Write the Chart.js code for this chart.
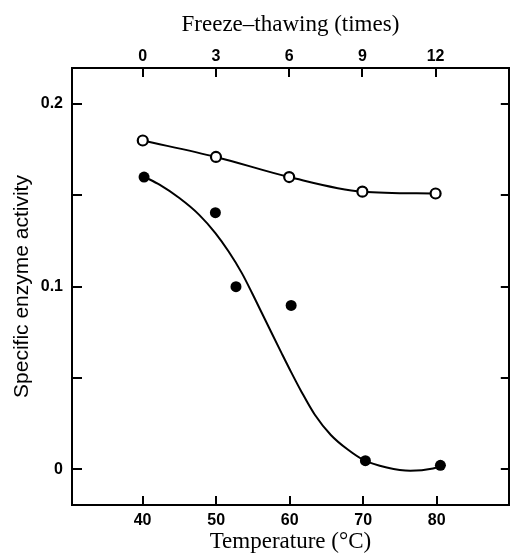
<!DOCTYPE html>
<html>
<head>
<meta charset="utf-8">
<script src="https://cdn.jsdelivr.net/npm/chart.js@4.4.1/dist/chart.umd.min.js"></script>
<style>
  body { margin: 0; background: #fff; }
  canvas { display: block; }
</style>
</head>
<body>
<canvas id="chart" width="516" height="553"></canvas>
<script>
// temperature treatment (filled circles)
const tempValues = [40.2, 49.9, 52.7, 60.2, 70.3, 80.5];
const tempActivity = [0.160, 0.1405, 0.100, 0.0897, 0.0047, 0.0022];

// fitted curve through the temperature data
const curveTemp = [40.3, 42.3, 45.0, 47.7, 49.9, 51.7, 53.5, 54.9, 56.2, 57.5, 58.9, 60.2, 61.6, 63.4, 65.6, 67.9, 70.1, 73.2, 76.4, 79.5, 80.4];
const curveActivity = [0.160, 0.1558, 0.1485, 0.1393, 0.1293, 0.1192, 0.1074, 0.0964, 0.0857, 0.0750, 0.0636, 0.0532, 0.0425, 0.0300, 0.0188, 0.0108, 0.0050, 0.0010, -0.0008, 0.0004, 0.0015];

// freeze-thawing (open circles)
const freezeTimes = [0, 3, 6, 9, 12];
const freezeActivity = [0.180, 0.171, 0.160, 0.152, 0.151];

const tempTicks = [40, 50, 60, 70, 80];
const freezeTicks = [0, 3, 6, 9, 12];
const yTicks = [0, 0.05, 0.1, 0.15, 0.2];
const yTickLabels = ['0', '', '0.1', '', '0.2'];

const tickFont = { family: 'Liberation Sans', size: 16, weight: 'bold' };
const serifTitle = { family: 'Liberation Serif', size: 23, lineHeight: 1 };

function toPoints(xs, ys) {
    return xs.map((x, i) => ({ x: x, y: ys[i] }));
}

// ticks on the frame point inwards, so they are drawn here
const innerTicks = {
    id: 'innerTicks',
    afterDraw(chart) {
        const { ctx, chartArea: a, scales } = chart;
        ctx.save();
        ctx.strokeStyle = '#000';
        ctx.lineWidth = 2;
        ctx.beginPath();
        tempTicks.forEach(v => {
            const px = Math.round(scales.x.getPixelForValue(v));
            ctx.moveTo(px, a.bottom);
            ctx.lineTo(px, a.bottom - 9);
        });
        freezeTicks.forEach(v => {
            const px = Math.round(scales.x2.getPixelForValue(v));
            ctx.moveTo(px, a.top);
            ctx.lineTo(px, a.top + 9);
        });
        yTicks.forEach(v => {
            const py = Math.round(scales.y.getPixelForValue(v));
            ctx.moveTo(a.left, py);
            ctx.lineTo(a.left + 10, py);
            ctx.moveTo(a.right, py);
            ctx.lineTo(a.right - 8, py);
        });
        ctx.stroke();
        ctx.restore();
    }
};

const frame = { display: true, color: '#000', width: 2 };
const noGrid = { display: true, drawOnChartArea: false, drawTicks: false };

new Chart(document.getElementById('chart').getContext('2d'), {
    type: 'scatter',
    data: {
        datasets: [
            {
                label: 'Freeze-thawing',
                data: toPoints(freezeTimes, freezeActivity),
                xAxisID: 'x2',
                yAxisID: 'y',
                showLine: true,
                cubicInterpolationMode: 'monotone',
                borderColor: '#000',
                borderWidth: 2,
                pointRadius: 5,
                pointBorderWidth: 2.2,
                pointBackgroundColor: '#fff',
                pointBorderColor: '#000'
            },
            {
                label: 'Temperature fit',
                data: toPoints(curveTemp, curveActivity),
                xAxisID: 'x',
                yAxisID: 'y',
                showLine: true,
                cubicInterpolationMode: 'monotone',
                borderColor: '#000',
                borderWidth: 2,
                pointRadius: 0
            },
            {
                label: 'Temperature',
                data: toPoints(tempValues, tempActivity),
                xAxisID: 'x',
                yAxisID: 'y',
                showLine: false,
                pointRadius: 5.5,
                pointBackgroundColor: '#000',
                pointBorderColor: '#000',
                pointBorderWidth: 0
            }
        ]
    },
    options: {
        responsive: false,
        animation: false,
        layout: { padding: 0 },
        plugins: { legend: { display: false }, tooltip: { enabled: false } },
        scales: {
            x: {
                type: 'linear',
                position: 'bottom',
                min: 30.4,
                max: 89.8,
                afterBuildTicks: s => { s.ticks = tempTicks.map(v => ({ value: v })); },
                afterFit: s => { s.height = 48; },
                grid: noGrid,
                border: frame,
                ticks: { color: '#000', font: tickFont, padding: 6, maxRotation: 0, autoSkip: false },
                title: {
                    display: true,
                    text: 'Temperature (°C)',
                    color: '#000',
                    font: serifTitle,
                    padding: { top: 0, bottom: 0 }
                }
            },
            x2: {
                type: 'linear',
                position: 'top',
                min: -2.9,
                max: 15.0,
                afterBuildTicks: s => { s.ticks = freezeTicks.map(v => ({ value: v })); },
                afterFit: s => { s.height = 68; },
                grid: noGrid,
                border: frame,
                ticks: { color: '#000', font: tickFont, padding: 2, maxRotation: 0, autoSkip: false },
                title: {
                    display: true,
                    text: 'Freeze–thawing (times)',
                    color: '#000',
                    font: serifTitle,
                    padding: { top: 13, bottom: 0 }
                }
            },
            y: {
                type: 'linear',
                position: 'left',
                min: -0.01955,
                max: 0.2197,
                afterBuildTicks: s => { s.ticks = yTicks.map(v => ({ value: v })); },
                afterFit: s => { s.width = 72; },
                grid: noGrid,
                border: frame,
                ticks: {
                    color: '#000',
                    font: tickFont,
                    padding: 9,
                    autoSkip: false,
                    callback: (v, i) => yTickLabels[i]
                },
                title: {
                    display: true,
                    text: 'Specific enzyme activity',
                    color: '#000',
                    font: { family: 'Liberation Sans', size: 21, lineHeight: 1 },
                    padding: { top: 12, bottom: 0 }
                }
            },
            y2: {
                type: 'linear',
                position: 'right',
                min: -0.01955,
                max: 0.2197,
                afterFit: s => { s.width = 3; },
                grid: noGrid,
                border: frame,
                ticks: { display: false }
            }
        }
    },
    plugins: [innerTicks]
});
</script>
</body>
</html>
